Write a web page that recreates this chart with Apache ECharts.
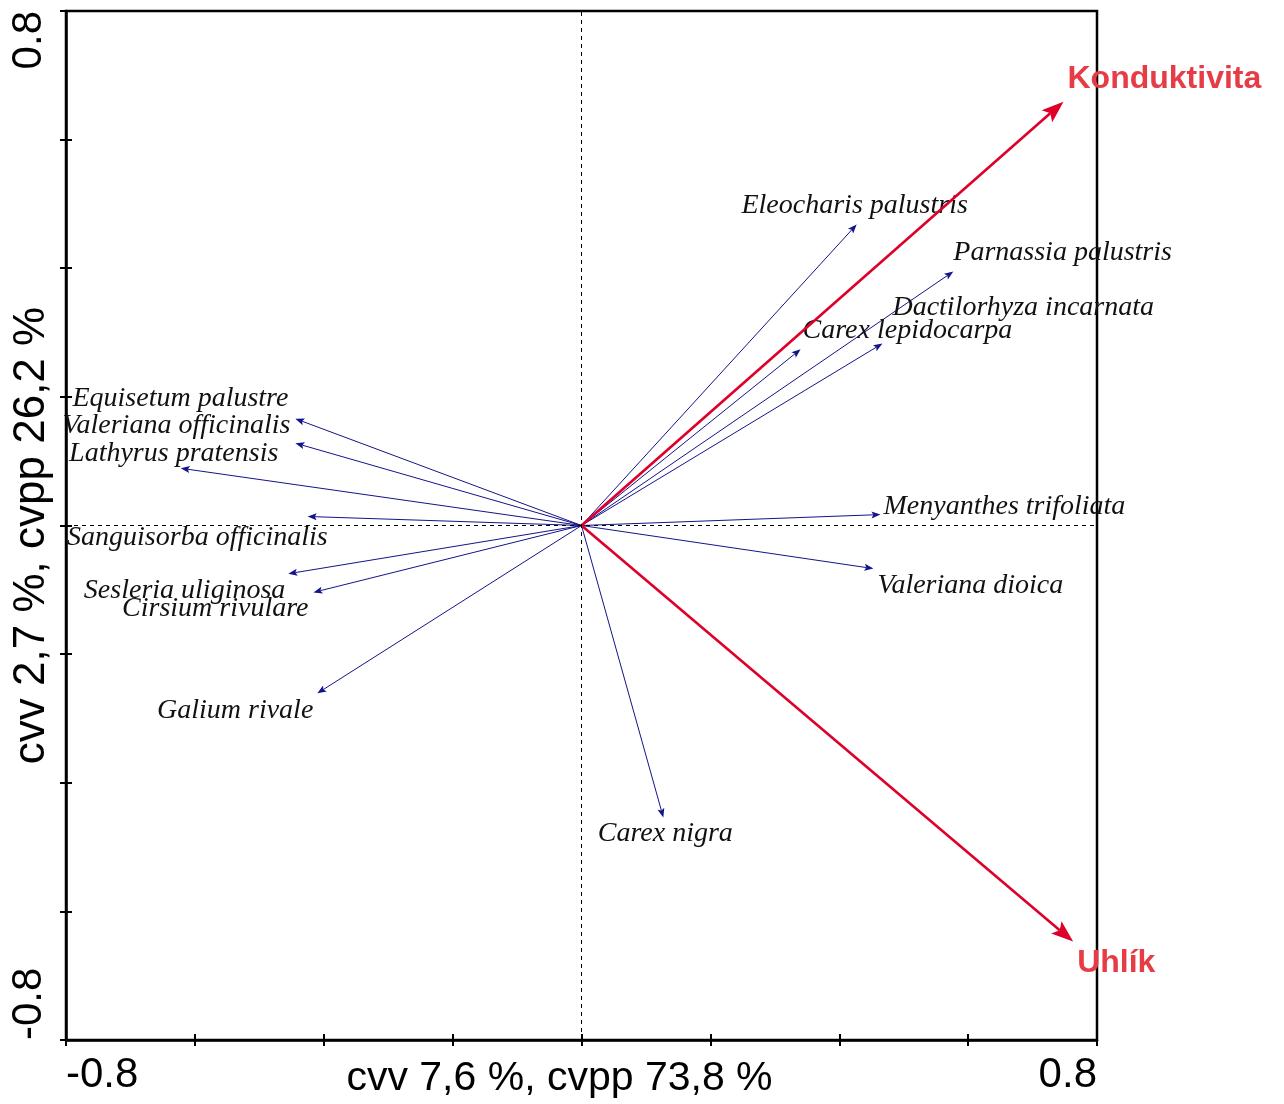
<!DOCTYPE html>
<html>
<head>
<meta charset="utf-8">
<script src="https://cdn.jsdelivr.net/npm/echarts@6/dist/echarts.min.js"></script>
<style>
html,body{margin:0;padding:0;background:#fff;}
#chart{width:1284px;height:1104px;}
</style>
</head>
<body>
<div id="chart"></div>
<script>
// ---- data ----
const speciesNames = [
  'Eleocharis palustris', 'Parnassia palustris', 'Dactilorhyza incarnata', 'Carex lepidocarpa',
  'Menyanthes trifoliata', 'Valeriana dioica', 'Carex nigra', 'Galium rivale',
  'Cirsium rivulare', 'Sesleria uliginosa', 'Sanguisorba officinalis', 'Lathyrus pratensis',
  'Valeriana officinalis', 'Equisetum palustre'
];
const speciesX = [0.427, 0.577, 0.467, 0.340, 0.464, 0.453, 0.127, -0.410, -0.416, -0.455, -0.425, -0.622, -0.444, -0.444];
const speciesY = [0.468, 0.395, 0.283, 0.274, 0.017, -0.067, -0.454, -0.261, -0.104, -0.075, 0.014, 0.089, 0.128, 0.166];

const envNames = ['Konduktivita', 'Uhlík'];
const envX = [0.748, 0.763];
const envY = [0.659, -0.647];

const xTickLabels = ['-0.8', '', '', '', '', '', '', '', '0.8'];
const yTickLabels = ['-0.8', '', '', '', '', '', '', '', '0.8'];
const xAxisTitle = 'cvv 7,6 %, cvpp 73,8 %';
const yAxisTitle = 'cvv 2,7 %, cvpp 26,2 %';

// ---- label placement (styling, pixels relative to arrow tip) ----
const speciesLabelPlace = [
  {align: 'center', dx: -2, dy: -19},
  {align: 'left', dx: 0, dy: -19},
  {align: 'left', dx: 10, dy: -36},
  {align: 'left', dx: 2, dy: -19},
  {align: 'left', dx: 3, dy: -8},
  {align: 'left', dx: 4, dy: 17},
  {align: 'center', dx: 2, dy: 16},
  {align: 'right', dx: -4, dy: 17},
  {align: 'right', dx: -5, dy: 16},
  {align: 'right', dx: -3, dy: 17},
  {align: 'right', dx: 20, dy: 21},
  {align: 'center', dx: -7, dy: -15},
  {align: 'right', dx: -5, dy: -18},
  {align: 'right', dx: -7, dy: -20}
];
const envLabelPlace = [
  {align: 'left', dx: 4, dy: -23},
  {align: 'left', dx: 4, dy: 22}
];

const SPECIES_COLOR = '#14148a';
const ENV_COLOR = '#de0029';
const ENV_TEXT = '#e63c46';

function arrowItem(api, names, places, opts) {
  const x = api.value(0), y = api.value(1), i = api.value(2);
  const o = api.coord([0, 0]);
  const t = api.coord([x, y]);
  const dx = t[0] - o[0], dy = t[1] - o[1];
  const len = Math.sqrt(dx * dx + dy * dy);
  const ux = dx / len, uy = dy / len;
  const px = -uy, py = ux;
  const hl = opts.headLen, hw = opts.headWidth;
  const bx = t[0] - ux * hl, by = t[1] - uy * hl;
  const nx = t[0] - ux * hl * 0.8, ny = t[1] - uy * hl * 0.8;
  const p = places[i];
  return {
    type: 'group',
    children: [
      {
        type: 'line',
        shape: {x1: o[0], y1: o[1], x2: nx, y2: ny},
        style: {stroke: opts.color, lineWidth: opts.lineWidth}
      },
      {
        type: 'polygon',
        shape: {points: [[t[0], t[1]], [bx + px * hw, by + py * hw], [nx, ny], [bx - px * hw, by - py * hw]]},
        style: {fill: opts.color}
      },
      {
        type: 'text',
        x: t[0] + p.dx,
        y: t[1] + p.dy,
        style: {
          text: names[i],
          fill: opts.textColor,
          font: opts.font,
          align: p.align,
          verticalAlign: 'middle'
        }
      }
    ]
  };
}

const chart = echarts.init(document.getElementById('chart'));
const axisFont = 'Liberation Sans';
const tickStyle = {color: '#000', width: 2};
const hiddenLine = {show: true, onZero: false, lineStyle: {color: 'rgba(0,0,0,0)', width: 1}};

const option = {
  backgroundColor: '#fff',
  animation: false,
  grid: [
    {left: 66, top: 11, right: 187, bottom: 64, show: true, borderColor: '#000', borderWidth: 2.5,
     backgroundColor: 'transparent', containLabel: false, outerBoundsMode: 'none'},
    // y ticks: grid shifted 6px left so inside ticks of length 12 cross the axis
    {left: 60, top: 11, right: 187, bottom: 64, show: false, containLabel: false, outerBoundsMode: 'none'},
    // x ticks: grid shifted 6px down
    {left: 66, top: 11, right: 187, bottom: 58, show: false, containLabel: false, outerBoundsMode: 'none'}
  ],
  xAxis: [
    {
      type: 'value', gridIndex: 0, min: -0.8, max: 0.8, interval: 0.2,
      position: 'bottom',
      axisLine: {show: true, onZero: false, lineStyle: {color: '#000', width: 2.5}},
      axisTick: {show: false},
      axisLabel: {
        show: true, fontSize: 42, fontFamily: axisFont, color: '#000', margin: 14,
        showMinLabel: true, showMaxLabel: true,
        alignMinLabel: 'left', alignMaxLabel: 'right',
        formatter: (v, idx) => xTickLabels[Math.round((v + 0.8) / 0.2)] || ''
      },
      splitLine: {show: false},
      name: xAxisTitle, nameLocation: 'middle', nameGap: 18, nameMoveOverlap: false,
      nameTextStyle: {fontSize: 41, fontFamily: axisFont, color: '#000', verticalAlign: 'top', padding: [0, 44, 0, 0]}
    },
    {
      type: 'value', gridIndex: 1, min: -0.8, max: 0.8, interval: 0.2, position: 'bottom',
      axisLine: {show: false, onZero: false}, axisTick: {show: false}, axisLabel: {show: false}, splitLine: {show: false}
    },
    {
      type: 'value', gridIndex: 2, min: -0.8, max: 0.8, interval: 0.2, position: 'bottom',
      axisLine: hiddenLine,
      axisTick: {show: true, inside: true, length: 12, lineStyle: tickStyle},
      axisLabel: {show: false}, splitLine: {show: false}
    }
  ],
  yAxis: [
    {
      type: 'value', gridIndex: 0, min: -0.8, max: 0.8, interval: 0.2,
      position: 'left',
      axisLine: {show: true, onZero: false, lineStyle: {color: '#000', width: 2.5}},
      axisTick: {show: false},
      axisLabel: {
        show: true, fontSize: 42, fontFamily: axisFont, color: '#000', margin: 16, rotate: 90,
        showMinLabel: true, showMaxLabel: true,
        alignMinLabel: 'left', alignMaxLabel: 'right',
        formatter: (v, idx) => yTickLabels[Math.round((v + 0.8) / 0.2)] || ''
      },
      splitLine: {show: false},
      name: yAxisTitle, nameLocation: 'middle', nameGap: 12, nameRotate: 90, nameMoveOverlap: false,
      nameTextStyle: {fontSize: 44, fontFamily: axisFont, color: '#000', padding: [0, 20, 0, 0]}
    },
    {
      type: 'value', gridIndex: 1, min: -0.8, max: 0.8, interval: 0.2, position: 'left',
      axisLine: hiddenLine,
      axisTick: {show: true, inside: true, length: 12, lineStyle: tickStyle},
      axisLabel: {show: false}, splitLine: {show: false}
    },
    {
      type: 'value', gridIndex: 2, min: -0.8, max: 0.8, interval: 0.2, position: 'left',
      axisLine: {show: false, onZero: false}, axisTick: {show: false}, axisLabel: {show: false}, splitLine: {show: false}
    }
  ],
  series: [
    {type: 'scatter', xAxisIndex: 1, yAxisIndex: 1, data: [[-0.8, -0.8]], silent: true, symbolSize: 0, itemStyle: {opacity: 0}},
    {type: 'scatter', xAxisIndex: 2, yAxisIndex: 2, data: [[-0.8, -0.8]], silent: true, symbolSize: 0, itemStyle: {opacity: 0}},
    {
      type: 'scatter', xAxisIndex: 0, yAxisIndex: 0, data: [], silent: true,
      markLine: {
        silent: true, symbol: ['none', 'none'], label: {show: false},
        lineStyle: {color: '#000', type: [4, 4], width: 1},
        emphasis: {disabled: true},
        data: [{xAxis: 0}, {yAxis: 0}]
      }
    },
    {
      type: 'custom', xAxisIndex: 0, yAxisIndex: 0, silent: true,
      data: speciesNames.map((n, i) => [speciesX[i], speciesY[i], i]),
      renderItem: (params, api) => arrowItem(api, speciesNames, speciesLabelPlace, {
        color: SPECIES_COLOR, lineWidth: 1, headLen: 9, headWidth: 3.5,
        textColor: '#111', font: 'italic 28px "Liberation Serif"'
      })
    },
    {
      type: 'custom', xAxisIndex: 0, yAxisIndex: 0, silent: true,
      data: envNames.map((n, i) => [envX[i], envY[i], i]),
      renderItem: (params, api) => arrowItem(api, envNames, envLabelPlace, {
        color: ENV_COLOR, lineWidth: 2.6, headLen: 22, headWidth: 8,
        textColor: ENV_TEXT, font: 'bold 32px "Liberation Sans"'
      })
    }
  ]
};
chart.setOption(option);
</script>
</body>
</html>
